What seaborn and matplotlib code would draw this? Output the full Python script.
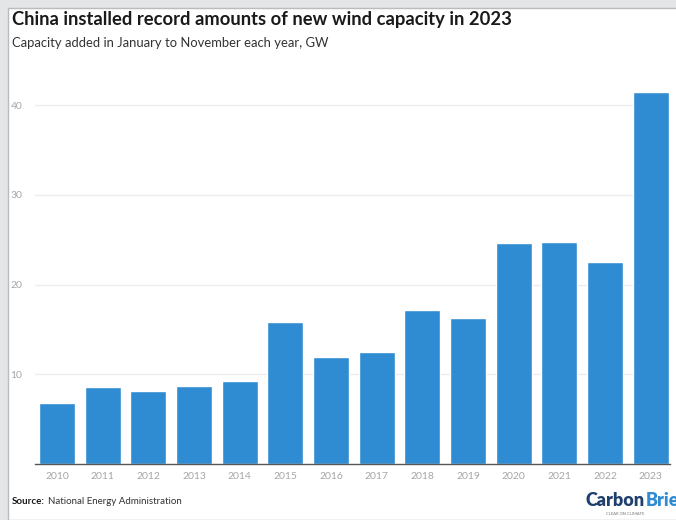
import matplotlib
matplotlib.use("Agg")
import matplotlib.pyplot as plt
import seaborn as sns
import pandas as pd
from matplotlib.patches import Rectangle

years = ["2010", "2011", "2012", "2013", "2014", "2015", "2016", "2017",
         "2018", "2019", "2020", "2021", "2022", "2023"]
capacity_gw = [6.8, 8.6, 8.1, 8.7, 9.25, 15.8, 11.9, 12.5, 17.2, 16.3, 24.6, 24.7, 22.5, 41.5]
y_ticks = [10, 20, 30, 40]

df = pd.DataFrame({"year": years, "gw": capacity_gw})

sns.set_theme(style="white")
plt.rcParams["font.family"] = ["Lato", "DejaVu Sans"]

W, H = 676, 520
fig = plt.figure(figsize=(W / 100, H / 100), dpi=100)
fig.patch.set_facecolor("#e4e5e7")

# white panel
panel = Rectangle((8 / W, 0), 1, 1 - 8 / H, transform=fig.transFigure,
                  facecolor="white", edgecolor="#b9bbbe", linewidth=1.0, zorder=-10)
fig.patches.append(panel)

ax = fig.add_axes([35 / W, (H - 464) / H, (670 - 35) / W, (464 - 80) / H])
ax.set_facecolor("none")
sns.barplot(data=df, x="year", y="gw", color="#2f8cd2", saturation=1,
            width=0.79, ax=ax, zorder=3)
ax.set_xlim(-0.48, 13.42)
ax.set_ylim(0, (464 - 80) / 89.7 * 10)
ax.set_yticks(y_ticks)
ax.set_yticklabels([str(t) for t in y_ticks])
ax.yaxis.grid(True, color="#ececec", linewidth=1.0, zorder=0)
ax.xaxis.grid(False)
for s in ["top", "right", "left"]:
    ax.spines[s].set_visible(False)
ax.spines["bottom"].set_color("#555555")
ax.spines["bottom"].set_linewidth(1.0)
ax.spines["bottom"].set_zorder(5)
ax.tick_params(axis="both", length=0, colors="#a6a6a6", labelsize=7.5)
ax.tick_params(axis="x", pad=6)
ax.tick_params(axis="y", pad=9)
ax.set_xlabel("")
ax.set_ylabel("")

fig.text(12 / W, 1 - 19 / H, "China installed record amounts of new wind capacity in 2023",
         fontsize=13.2, fontweight="bold", color="#1a1a1a", va="center", ha="left")
fig.text(12 / W, 1 - 43 / H, "Capacity added in January to November each year, GW",
         fontsize=9.4, color="#333333", va="center", ha="left")

src = fig.text(12 / W, 1 - 502 / H, "Source:", fontsize=7, fontweight="bold",
               color="#1a1a1a", va="center", ha="left")
fig.canvas.draw()
r = fig.canvas.get_renderer()
bb = src.get_window_extent(r)
fig.text((bb.x1 + 3) / W, 1 - 502 / H, "National Energy Administration", fontsize=7,
         color="#333333", va="center", ha="left")

cb = fig.text(586 / W, 1 - 501 / H, "Carbon", fontsize=13, fontweight="heavy",
              color="#1f3f6e", va="center", ha="left")
bb2 = cb.get_window_extent(r)
fig.text((bb2.x1 + 0.5) / W, 1 - 501 / H, "Brief", fontsize=13, fontweight="heavy",
         color="#2f8cd2", va="center", ha="left")
fig.text(606 / W, 1 - 514 / H, "CLEAR ON CLIMATE", fontsize=3, color="#777777",
         va="center", ha="left")

fig.savefig("out.png", dpi=100, facecolor=fig.get_facecolor())
